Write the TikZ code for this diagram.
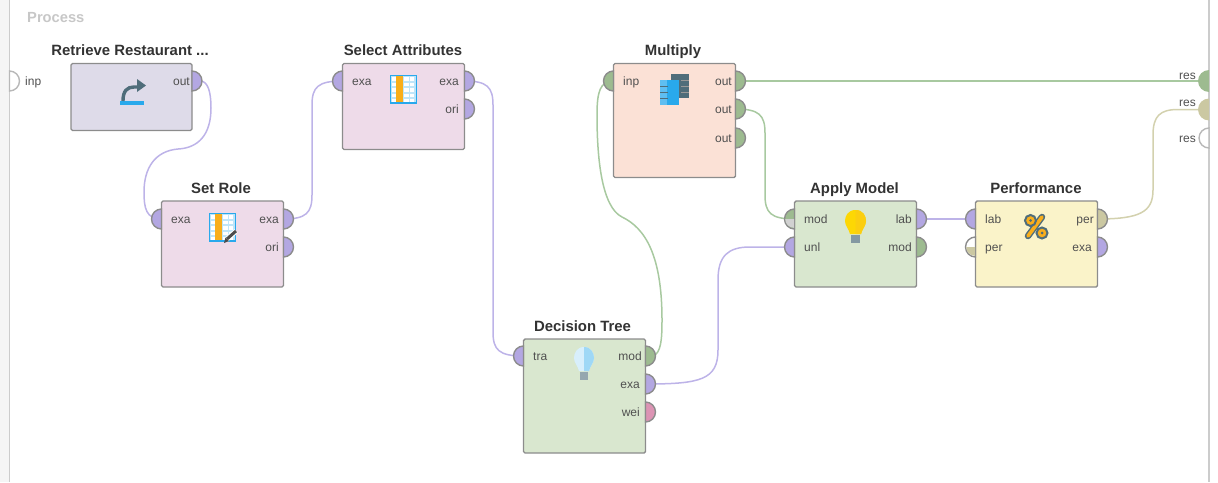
\documentclass[tikz,border=0pt]{standalone}
\usepackage{fontspec}
\setmainfont{Liberation Sans}
\usetikzlibrary{backgrounds}
\definecolor{pPurple}{HTML}{B3A7E2}
\definecolor{pGreen}{HTML}{9DBB90}
\definecolor{pPink}{HTML}{DC94B4}
\definecolor{pOlive}{HTML}{CBC8A2}
\definecolor{lPurple}{HTML}{BDB3E8}
\definecolor{lGreen}{HTML}{A8C9A0}
\definecolor{lOlive}{HTML}{D3D1AE}
\definecolor{edge}{HTML}{8C8C8C}
\definecolor{txt}{HTML}{505050}
\definecolor{ttl}{HTML}{333333}
\definecolor{bRetr}{HTML}{DEDBE9}
\definecolor{bPink}{HTML}{EEDBE9}
\definecolor{bPeach}{HTML}{FBE1D6}
\definecolor{bGreen}{HTML}{D9E7CF}
\definecolor{bYellow}{HTML}{FAF3C9}
\definecolor{icBlue}{HTML}{29A9EC}
\definecolor{icOrange}{HTML}{F9AE1B}
\definecolor{icGray}{HTML}{4F6D7A}
\tikzset{
  x=1pt,y=-1pt,
  opbox/.style={draw=edge,line width=1.4pt,rounded corners=1.5pt,anchor=north west,minimum width=122pt,inner sep=0pt,outer sep=0pt},
  optitle/.style={font=\bfseries\fontsize{14.9}{15}\selectfont,text=ttl,anchor=base,inner sep=0pt},
  portlab/.style={font=\fontsize{12}{12}\selectfont,text=txt,inner sep=0pt,anchor=base},
  conn/.style={line width=1.5pt},
  portedge/.style={draw=edge,line width=1.4pt},
}
% right-bulging port
\newcommand\portR[4]{\coordinate (#1) at (#2,#3);
  \filldraw[portedge,fill=#4] (#2,#3-10) arc[start angle=-90,end angle=90,radius=10] -- cycle;}
% left-bulging port
\newcommand\portL[4]{\coordinate (#1) at (#2,#3);
  \filldraw[portedge,fill=#4] (#2,#3-10) arc[start angle=270,end angle=90,radius=10] -- cycle;}
\newcommand\tableicon[2]{%
  \begin{scope}[shift={(#1,#2)}]
    \fill[icBlue] (0,0) rectangle (27,29);
    \fill[white!70!icBlue] (1,1.5) rectangle (26,27.5);
    \foreach \yy in {2.5,8,13.5,19,24}\foreach \xx in {1.5,14,19.5}
      \fill[white] (\xx,\yy) rectangle (\xx+4.5,\yy+3.8);
    \fill[icOrange] (6,1.5) rectangle (13,27.5);
  \end{scope}}
\begin{document}
\begin{tikzpicture}
\useasboundingbox (0,0) rectangle (1218,482);
% operators
\node[opbox,fill=bRetr,minimum height=67pt,minimum width=121pt] (retr) at (71,63.5) {};
\node[opbox,fill=bPink,minimum height=86pt] (setr) at (161.5,201) {};
\node[opbox,fill=bPink,minimum height=86pt] (sela) at (342.5,63.5) {};
\node[opbox,fill=bPeach,minimum height=114pt] (mult) at (613.5,63.5) {};
\node[opbox,fill=bGreen,minimum height=86pt] (appl) at (794.5,201) {};
\node[opbox,fill=bYellow,minimum height=86pt] (perf) at (975.5,201) {};
\node[opbox,fill=bGreen,minimum height=114pt] (dtre) at (523.5,339) {};
% titles
\node[optitle] (t1) at (130,55) {Retrieve Restaurant ...};
\node[optitle] (t2) at (221,193) {Set Role};
\node[optitle] (t3) at (403,55) {Select Attributes};
\node[optitle] (t4) at (673,55) {Multiply};
\node[optitle] (t5) at (854.5,193) {Apply Model};
\node[optitle] (t6) at (1036,193) {Performance};
\node[optitle] (t7) at (582.5,331) {Decision Tree};
\node[font=\bfseries\fontsize{14.7}{15}\selectfont,text=black!22,anchor=base west,inner sep=0pt] (proc) at (27,22) {Process};
% frame
\fill[black!4] (0,0) rectangle (8.5,482);
\draw[black!20,line width=1.2pt] (9.5,0) -- (9.5,482);
\draw[black!20,line width=1.2pt] (1209,0) -- (1209,482);
% ports
\filldraw[draw=black!28,line width=1.4pt,fill=white] (9.5,71) arc[start angle=-90,end angle=90,radius=10] -- cycle;
\coordinate (pinp) at (9.5,81);
\portR{retrO}{192}{81}{pPurple}
\portL{setrI}{161.5}{219}{pPurple}
\portR{setrO}{283.5}{219}{pPurple}
\portR{setrR}{283.5}{247}{pPurple}
\portL{selaI}{342.5}{81}{pPurple}
\portR{selaO}{464.5}{81}{pPurple}
\portR{selaR}{464.5}{109}{pPurple}
\portL{multI}{613.5}{81}{pGreen}
\portR{multA}{735.5}{81}{pGreen}
\portR{multB}{735.5}{109}{pGreen}
\portR{multC}{735.5}{138}{pGreen}
\portL{applM}{794.5}{219}{pGreen}
\fill[black!18] (794,219) -- (785.2,219) arc[start angle=180,end angle=90,radius=8.8] -- cycle;
\portL{applU}{794.5}{247}{pPurple}
\portR{applL}{916.5}{219}{pPurple}
\portR{applO}{916.5}{247}{pGreen}
\portL{perfL}{975.5}{219}{pPurple}
\portL{perfP}{975.5}{247}{white}
\fill[pOlive] (975,247) -- (966.2,247) arc[start angle=180,end angle=90,radius=8.8] -- cycle;
\portR{perfO}{1097.5}{219}{pOlive}
\portR{perfE}{1097.5}{247}{pPurple}
\portL{dtreT}{523.5}{356}{pPurple}
\portR{dtreM}{645.5}{356}{pGreen}
\portR{dtreE}{645.5}{384}{pPurple}
\portR{dtreW}{645.5}{412}{pPink}
\fill[pGreen] (1209,70) arc[start angle=270,end angle=90,radius=11] -- cycle;
\coordinate (res1) at (1198,81);
\fill[pOlive] (1209,98.5) arc[start angle=270,end angle=90,radius=11] -- cycle;
\coordinate (res2) at (1198,109.5);
\draw[draw=black!28,line width=1.4pt,fill=white] (1209,128) arc[start angle=270,end angle=90,radius=10] -- cycle;
% port labels
\foreach \x/\y/\s/\a in {
 25/85/inp/west, 190/85/out/east,
 171/223/exa/west, 279/223/exa/east, 279/251/ori/east,
 352/85/exa/west, 459/85/exa/east, 459/113/ori/east,
 623/85/inp/west, 732/85/out/east, 732/113/out/east, 732/142/out/east,
 804/223/mod/west, 804/251/unl/west, 912/223/lab/east, 912/251/mod/east,
 985/223/lab/west, 985/251/per/west, 1094/223/per/east, 1092/251/exa/east,
 533/360/tra/west, 642/360/mod/east, 640/388/exa/east, 640/416/wei/east,
 1196/79/res/east, 1196/106/res/east, 1196/142/res/east}
  \node[portlab,anchor=base \a] at (\x,\y) {\s};
% connectors
\begin{pgfonlayer}{background}
\draw[conn,lPurple] (retrO) ++(9,0) .. controls (208,82) and (211,92) .. (211,108)
   .. controls (211,135) and (198,148) .. (178,149)
   .. controls (155,151) and (144,168) .. (144,192)
   .. controls (144,208) and (146,219) .. (setrI);
\draw[conn,lPurple] (setrO) .. controls (306,219) and (312,213) .. (312,195)
   -- (312,105) .. controls (312,87) and (318,81) .. (selaI);
\draw[conn,lPurple] (selaO) .. controls (487,81) and (493,87) .. (493,105)
   -- (493,332) .. controls (493,350) and (499,356) .. (dtreT);
\draw[conn,lGreen] (dtreM) ++(8,0) .. controls (661,352) and (662,340) .. (662,320)
   .. controls (662,255) and (645,228) .. (622,217)
   .. controls (602,207) and (597,160) .. (597,115)
   .. controls (597,92) and (600,81) .. (multI);
\draw[conn,lPurple] (dtreE) .. controls (700,384) and (718,380) .. (718,350)
   -- (718,280) .. controls (718,256) and (728,247) .. (750,247) -- (applU);
\draw[conn,lGreen] (multA) -- (res1);
\draw[conn,lGreen] (multB) .. controls (759,109) and (765,115) .. (765,133)
   -- (765,195) .. controls (765,213) and (771,219) .. (applM);
\draw[conn,lPurple] (applL) -- (perfL);
\draw[conn,lOlive] (perfO) .. controls (1140,219) and (1153,212) .. (1153,190)
   -- (1153,135) .. controls (1153,116) and (1160,109.5) .. (1178,109.5) -- (res2);
\end{pgfonlayer}
% icons: retrieve
\fill[icBlue] (120,101) rectangle (144,105);
\draw[icGray,line width=3.4pt] (123,101) .. controls (123,91) and (127,87) .. (134,87) -- (139,87);
\fill[icGray] (137,79) -- (146,85.5) -- (137,92) -- cycle;
% table icons
\tableicon{390}{74.5}
\tableicon{209}{212.5}
\draw[white,line width=5pt] (226,240) -- (236,231);
\draw[black!70,line width=3pt] (227,239) -- (236,231);
\fill[black!70] (224,243) -- (225.5,237.5) -- (229,241) -- cycle;
% multiply icon
\fill[icGray] (671,74) rectangle (689,98);
\foreach \yy in {80,86,92} \draw[black!40,line width=.5pt] (681,\yy) -- (689,\yy);
\fill[icBlue] (660,80) rectangle (679,105);
\fill[icBlue!75!white] (660,80) rectangle (667,105);
\foreach \yy in {86,92,98} \draw[icGray,line width=.4pt] (660,\yy) -- (668,\yy);
% bulbs
\fill[yellow!75!orange] (855.5,210) .. controls (848,210) and (845,216) .. (845,221)
  .. controls (845,226) and (849,229) .. (850,234) -- (861,234)
  .. controls (862,229) and (866,226) .. (866,221) .. controls (866,216) and (863,210) .. (855.5,210) -- cycle;
\fill[icOrange!60!yellow] (855.5,210) .. controls (863,210) and (866,216) .. (866,221)
  .. controls (866,226) and (862,229) .. (861,234) -- (855.5,234) -- cycle;
\fill[icGray!70] (851,235) rectangle (860,243);
\fill[icBlue!18] (584,347) .. controls (577,347) and (574,353) .. (574,358)
  .. controls (574,363) and (578,366) .. (579,371) -- (589,371)
  .. controls (590,366) and (594,363) .. (594,358) .. controls (594,353) and (591,347) .. (584,347) -- cycle;
\fill[icBlue!45] (584,347) .. controls (591,347) and (594,353) .. (594,358)
  .. controls (594,363) and (590,366) .. (589,371) -- (584,371) -- cycle;
\fill[icGray!60] (580,372) rectangle (588,380);
% percent icon
\draw[icGray,line width=6.5pt,line cap=round] (1028,236) -- (1042,217);
\draw[icOrange,line width=3.6pt,line cap=round] (1028,236) -- (1042,217);
\draw[icGray,line width=2pt,fill=icOrange] (1030.5,220.5) circle[radius=5.5];
\draw[icGray,line width=2pt,fill=icOrange] (1042,233) circle[radius=5.5];
\fill[icGray] (1030.5,220.5) circle[radius=1.5];
\fill[icGray] (1042,233) circle[radius=1.5];
\end{tikzpicture}
\end{document}
